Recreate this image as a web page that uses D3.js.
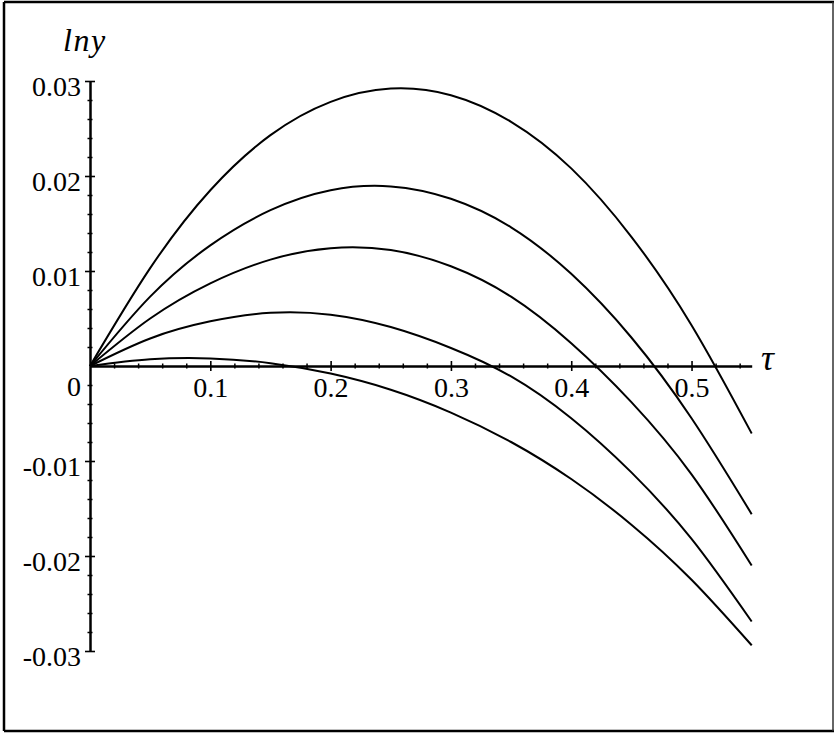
<!DOCTYPE html>
<html>
<head>
<meta charset="utf-8">
<script src="https://cdn.jsdelivr.net/npm/d3@7"></script>
<style>
  html, body { margin: 0; padding: 0; background: #fff; }
  svg { display: block; }
  .tick text { font-family: "Liberation Serif", "DejaVu Serif", serif; font-size: 28px; fill: #000; }
</style>
</head>
<body>
<svg id="chart" width="835" height="733"></svg>
<script>
// Sample points along τ shared by every curve
const tau = [0, 0.05, 0.10, 0.15, 0.20, 0.25, 0.30, 0.35, 0.40, 0.45, 0.50, 0.55];

// ln y for the five curves, top to bottom
const lnyA = [0, 0.0103, 0.0185, 0.0243, 0.0278, 0.0292, 0.0285, 0.0257, 0.0208, 0.0136, 0.0043, -0.0071];
const lnyB = [0, 0.0073, 0.0127, 0.0164, 0.0185, 0.0189, 0.0176, 0.0146, 0.0097, 0.0030, -0.0055, -0.0156];
const lnyC = [0, 0.0050, 0.0087, 0.0112, 0.0124, 0.0122, 0.0105, 0.0073, 0.0024, -0.0038, -0.0114, -0.0210];
const lnyD = [0, 0.0029, 0.0047, 0.0056, 0.0054, 0.0041, 0.0019, -0.0011, -0.0055, -0.0112, -0.0182, -0.0269];
const lnyE = [0, 0.0007, 0.0008, 0.0003, -0.0008, -0.0025, -0.0049, -0.0080, -0.0119, -0.0167, -0.0225, -0.0294];

// Axis ticks
const xMajor = [0.1, 0.2, 0.3, 0.4, 0.5];
const xMinor = [0.02, 0.04, 0.06, 0.08, 0.12, 0.14, 0.16, 0.18, 0.22, 0.24, 0.26, 0.28,
                0.32, 0.34, 0.36, 0.38, 0.42, 0.44, 0.46, 0.48, 0.52, 0.54];
const yMajor = [-0.03, -0.02, -0.01, 0, 0.01, 0.02, 0.03];
const yLabels = ["-0.03", "-0.02", "-0.01", "0", "0.01", "0.02", "0.03"];
const yMinor = d3.range(-15, 16).filter(k => k % 5 !== 0).map(k => k * 0.002);

const xTitle = "τ";
const yTitle = "lny";

const serif = "'Liberation Serif', 'DejaVu Serif', serif";
const svg = d3.select("#chart");

const x = d3.scaleLinear().domain([0, 0.55]).range([90, 751.7]);
const y = d3.scaleLinear().domain([-0.03, 0.03]).range([651, 81]);

// outer frame
const frame = svg.append("g").attr("stroke", "#000").attr("fill", "none");
frame.append("line").attr("x1", 4).attr("y1", 2).attr("x2", 834).attr("y2", 2).attr("stroke-width", 2.5);
frame.append("line").attr("x1", 4).attr("y1", 2).attr("x2", 4).attr("y2", 731).attr("stroke-width", 2.5);
frame.append("line").attr("x1", 4).attr("y1", 731).attr("x2", 834).attr("y2", 731).attr("stroke-width", 2.5);
frame.append("line").attr("x1", 833).attr("y1", 2).attr("x2", 833).attr("y2", 731).attr("stroke-width", 1.5).attr("stroke", "#333");

const x0 = x(0), y0 = y(0);

// ---- vertical axis ----
const yAxisG = svg.append("g").attr("transform", `translate(${x0},0)`);
// major ticks crossing the axis
yAxisG.append("g").call(d3.axisLeft(y).tickValues(yMajor).tickSizeInner(5).tickSizeOuter(0)
    .tickFormat((d, i) => yLabels[i]).tickPadding(4))
  .call(g => g.select(".domain").attr("stroke-width", 2.5))
  .call(g => g.selectAll(".tick line").attr("stroke-width", 1.6))
  .call(g => g.selectAll(".tick text").attr("dy", null).attr("y", 14.5).attr("x", -9))
  .call(g => g.selectAll(".tick").filter(d => d === 0).select("line").remove())
  .call(g => g.selectAll(".tick").filter(d => d === 0).select("text").attr("y", 29));
yAxisG.append("g").call(d3.axisRight(y).tickValues(yMajor.filter(d => d !== 0)).tickSize(5).tickFormat(""))
  .call(g => g.select(".domain").remove())
  .call(g => g.selectAll(".tick line").attr("stroke-width", 1.6));
// minor ticks
yAxisG.append("g").call(d3.axisLeft(y).tickValues(yMinor).tickSize(2.5).tickFormat(""))
  .call(g => g.select(".domain").remove())
  .call(g => g.selectAll(".tick line").attr("stroke-width", 1.5));
yAxisG.append("g").call(d3.axisRight(y).tickValues(yMinor).tickSize(2.5).tickFormat(""))
  .call(g => g.select(".domain").remove())
  .call(g => g.selectAll(".tick line").attr("stroke-width", 1.5));

// ---- horizontal axis ----
const xAxisG = svg.append("g").attr("transform", `translate(0,${y0})`);
xAxisG.append("g").call(d3.axisBottom(x).tickValues(xMajor).tickSizeInner(5).tickSizeOuter(0)
    .tickFormat(d3.format(".1f")))
  .call(g => g.select(".domain").attr("stroke-width", 2.5))
  .call(g => g.selectAll(".tick line").attr("stroke-width", 1.6))
  .call(g => g.selectAll(".tick text").attr("dy", null).attr("y", 31));
xAxisG.append("g").call(d3.axisTop(x).tickValues(xMajor).tickSize(5).tickFormat(""))
  .call(g => g.select(".domain").remove())
  .call(g => g.selectAll(".tick line").attr("stroke-width", 1.6));
xAxisG.append("g").call(d3.axisBottom(x).tickValues(xMinor).tickSize(2.5).tickFormat(""))
  .call(g => g.select(".domain").remove())
  .call(g => g.selectAll(".tick line").attr("stroke-width", 1.5));
xAxisG.append("g").call(d3.axisTop(x).tickValues(xMinor).tickSize(2.5).tickFormat(""))
  .call(g => g.select(".domain").remove())
  .call(g => g.selectAll(".tick line").attr("stroke-width", 1.5));

// ---- curves ----
const line = d3.line()
  .x(d => x(d[0]))
  .y(d => y(d[1]))
  .curve(d3.curveNatural);

const series = [lnyA, lnyB, lnyC, lnyD, lnyE];
svg.append("g")
  .selectAll("path")
  .data(series)
  .join("path")
  .attr("d", vals => line(tau.map((t, i) => [t, vals[i]])))
  .attr("fill", "none")
  .attr("stroke", "#000")
  .attr("stroke-width", 2);

// ---- axis titles ----
svg.append("text")
  .attr("x", 63).attr("y", 51)
  .attr("font-family", serif)
  .attr("font-style", "italic")
  .attr("font-size", 32)
  .attr("letter-spacing", 1.5)
  .text(yTitle);

svg.append("text")
  .attr("x", 761).attr("y", 370)
  .attr("font-family", serif)
  .attr("font-style", "italic")
  .attr("font-size", 36)
  .text(xTitle);
</script>
</body>
</html>
